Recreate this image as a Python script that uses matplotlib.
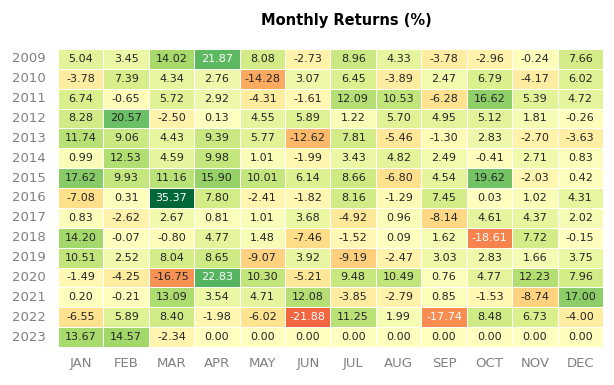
import numpy as np
import pandas as pd
import matplotlib
matplotlib.use('Agg')
import matplotlib.pyplot as plt
import seaborn as sns

years = [2009, 2010, 2011, 2012, 2013, 2014, 2015, 2016, 2017, 2018, 2019, 2020, 2021, 2022, 2023]
months = ['JAN', 'FEB', 'MAR', 'APR', 'MAY', 'JUN', 'JUL', 'AUG', 'SEP', 'OCT', 'NOV', 'DEC']

r2009 = [5.04, 3.45, 14.02, 21.87, 8.08, -2.73, 8.96, 4.33, -3.78, -2.96, -0.24, 7.66]
r2010 = [-3.78, 7.39, 4.34, 2.76, -14.28, 3.07, 6.45, -3.89, 2.47, 6.79, -4.17, 6.02]
r2011 = [6.74, -0.65, 5.72, 2.92, -4.31, -1.61, 12.09, 10.53, -6.28, 16.62, 5.39, 4.72]
r2012 = [8.28, 20.57, -2.50, 0.13, 4.55, 5.89, 1.22, 5.70, 4.95, 5.12, 1.81, -0.26]
r2013 = [11.74, 9.06, 4.43, 9.39, 5.77, -12.62, 7.81, -5.46, -1.30, 2.83, -2.70, -3.63]
r2014 = [0.99, 12.53, 4.59, 9.98, 1.01, -1.99, 3.43, 4.82, 2.49, -0.41, 2.71, 0.83]
r2015 = [17.62, 9.93, 11.16, 15.90, 10.01, 6.14, 8.66, -6.80, 4.54, 19.62, -2.03, 0.42]
r2016 = [-7.08, 0.31, 35.37, 7.80, -2.41, -1.82, 8.16, -1.29, 7.45, 0.03, 1.02, 4.31]
r2017 = [0.83, -2.62, 2.67, 0.81, 1.01, 3.68, -4.92, 0.96, -8.14, 4.61, 4.37, 2.02]
r2018 = [14.20, -0.07, -0.80, 4.77, 1.48, -7.46, -1.52, 0.09, 1.62, -18.61, 7.72, -0.15]
r2019 = [10.51, 2.52, 8.04, 8.65, -9.07, 3.92, -9.19, -2.47, 3.03, 2.83, 1.66, 3.75]
r2020 = [-1.49, -4.25, -16.75, 22.83, 10.30, -5.21, 9.48, 10.49, 0.76, 4.77, 12.23, 7.96]
r2021 = [0.20, -0.21, 13.09, 3.54, 4.71, 12.08, -3.85, -2.79, 0.85, -1.53, -8.74, 17.00]
r2022 = [-6.55, 5.89, 8.40, -1.98, -6.02, -21.88, 11.25, 1.99, -17.74, 8.48, 6.73, -4.00]
r2023 = [13.67, 14.57, -2.34, 0.00, 0.00, 0.00, 0.00, 0.00, 0.00, 0.00, 0.00, 0.00]

returns = pd.DataFrame([r2009, r2010, r2011, r2012, r2013, r2014, r2015, r2016,
                        r2017, r2018, r2019, r2020, r2021, r2022, r2023],
                       index=years, columns=months)

fig = plt.figure(figsize=(6.14, 3.85), dpi=100)
ax = fig.add_axes([0.0945, 0.0987, 0.8875, 0.7743])

sns.heatmap(returns, ax=ax, annot=True, center=0, fmt='0.2f', linewidths=0.5,
            cbar=False, cmap='RdYlGn', annot_kws={'size': 8})

# title sits a bit right of the axes centre in the original
fig.text(346 / 614, 1 - 21 / 385, 'Monthly Returns (%)', fontsize=10.5,
         fontweight='bold', ha='center', va='center')
ax.set_xlabel('')
ax.set_ylabel('')
ax.tick_params(colors='#808080', length=0, labelsize=9.5)
ax.tick_params(axis='x', pad=7)
ax.tick_params(axis='y', pad=9)
plt.yticks(rotation=0)
plt.xticks(rotation=0)

fig.savefig('out.png', dpi=100)
